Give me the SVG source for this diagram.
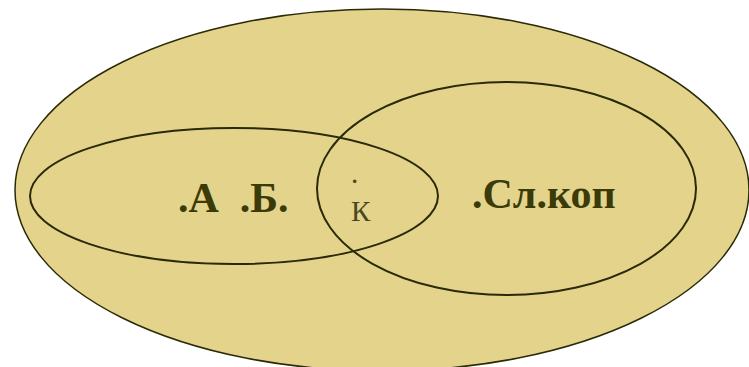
<svg xmlns="http://www.w3.org/2000/svg" width="749" height="367" viewBox="0 0 749 367">
<style>
.shape{fill:none;stroke:#2b2a08;stroke-width:2}
.big{font-family:"Liberation Serif",serif;font-weight:bold;font-size:42px;fill:#3b3a09}
.small{font-family:"Liberation Serif",serif;font-size:29px;fill:#4a4722}
</style>
<rect width="749" height="367" fill="#ffffff"/>
<g id="outer">
<ellipse cx="382" cy="190" rx="367" ry="181" fill="#e3d38b" stroke="#2b2a08" stroke-width="1.5"/>
</g>
<g id="left">
<ellipse class="shape" cx="234" cy="196" rx="204" ry="68"/>
</g>
<g id="right">
<ellipse class="shape" cx="506.5" cy="188.5" rx="189.5" ry="106.5"/>
</g>
<g id="labels">
<text class="big" x="178" y="212" xml:space="preserve">.А  .Б.</text>
<text class="big" x="472" y="208">.Сл.коп</text>
<text class="small" x="351" y="183">.</text>
<text class="small" x="351" y="221">К</text>
</g>
</svg>
